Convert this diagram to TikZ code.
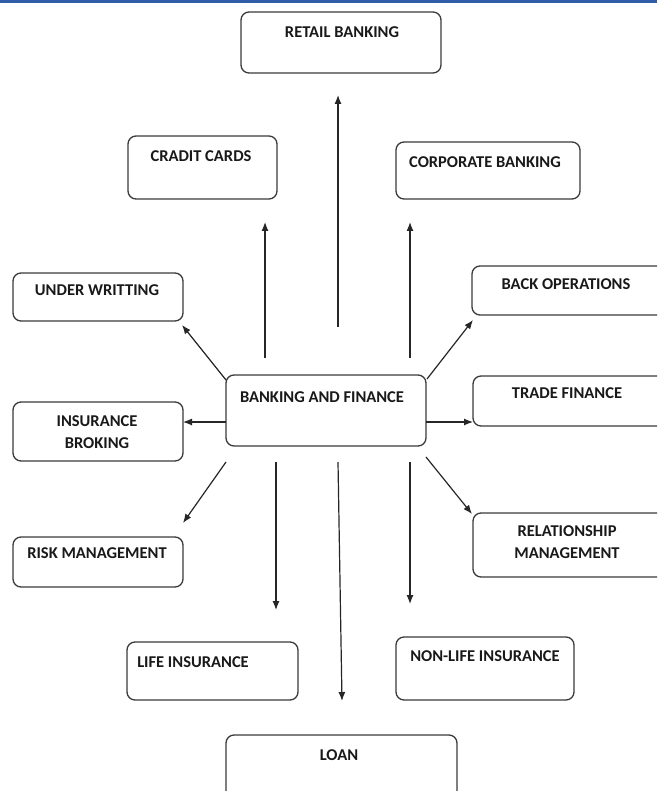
\documentclass[tikz,border=0pt]{standalone}
\usepackage{fontspec}
\setmainfont{Carlito}
\usetikzlibrary{arrows.meta}
\definecolor{topblue}{HTML}{2F5DA8}
\definecolor{edge}{HTML}{3A3A3A}
\tikzset{
  box/.style={draw=edge, line width=1.3pt, rounded corners=8pt, fill=white, inner sep=0pt},
  lbl/.style={font=\fontsize{16.5}{22}\selectfont\bfseries, text=black!90, inner sep=0pt, align=center},
  arr/.style={draw=black!85, line width=1.2pt, -{Latex[length=9pt,width=7pt]}}
}
\begin{document}
\begin{tikzpicture}[x=1pt,y=-1pt]
\useasboundingbox (0,0) rectangle (657,791);
\clip (0,0) rectangle (657,791);
\fill[topblue] (0,0) rectangle (657,3);
% boxes
\node[box, minimum width=200, minimum height=61] (retail) at (341,42.5) {};
\node[lbl] (retailT) at (342,32) {RETAIL BANKING};
\node[box, minimum width=149, minimum height=63] (credit) at (202.5,167.5) {};
\node[lbl] (creditT) at (201,156) {CRADIT CARDS};
\node[box, minimum width=184, minimum height=57] (corp) at (488,170.5) {};
\node[lbl] (corpT) at (485,162) {CORPORATE BANKING};
\node[box, minimum width=170, minimum height=48] (under) at (98,297) {};
\node[lbl] (underT) at (97,290) {UNDER WRITTING};
\node[box, minimum width=198, minimum height=49] (back) at (571,290.5) {};
\node[lbl] (backT) at (566,284) {BACK OPERATIONS};
\node[box, minimum width=200, minimum height=71] (bf) at (326,410.5) {};
\node[lbl] (bfT) at (322,397) {BANKING AND FINANCE};
\node[box, minimum width=197, minimum height=50] (trade) at (571.5,401) {};
\node[lbl] (tradeT) at (567,393) {TRADE FINANCE};
\node[box, minimum width=170, minimum height=59] (insur) at (98,431.5) {};
\node[lbl] (insurT) at (97,432) {INSURANCE\\BROKING};
\node[box, minimum width=170, minimum height=50] (risk) at (98,562) {};
\node[lbl] (riskT) at (97,553) {RISK MANAGEMENT};
\node[box, minimum width=197, minimum height=64] (rel) at (571.5,545) {};
\node[lbl] (relT) at (567,542) {RELATIONSHIP\\MANAGEMENT};
\node[box, minimum width=171, minimum height=58] (life) at (212.5,671) {};
\node[lbl] (lifeT) at (193,662) {LIFE INSURANCE};
\node[box, minimum width=178, minimum height=63] (nonlife) at (485,668.5) {};
\node[lbl] (nonlifeT) at (485,656) {NON-LIFE INSURANCE};
\node[box, minimum width=231, minimum height=70] (loan) at (341.5,770) {};
\node[lbl] (loanT) at (339,755) {LOAN};
% arrow end points
\coordinate (s1) at (338,327); \coordinate (e1) at (338,95);
\coordinate (s2) at (265,358); \coordinate (e2) at (265,222);
\coordinate (s3) at (410,358); \coordinate (e3) at (410,222);
\coordinate (s4) at (226,380); \coordinate (e4) at (182,325);
\coordinate (s5) at (226,422); \coordinate (e5) at (183,422);
\coordinate (s6) at (226,462); \coordinate (e6) at (183,523);
\coordinate (s7) at (276,462); \coordinate (e7) at (276,610);
\coordinate (s8) at (338,462); \coordinate (e8) at (342,701);
\coordinate (s9) at (410,462); \coordinate (e9) at (410,604);
\coordinate (s10) at (426,457); \coordinate (e10) at (472,514);
\coordinate (s11) at (426,422); \coordinate (e11) at (473,422);
\coordinate (s12) at (427,379); \coordinate (e12) at (473,320);
\foreach \i in {1,...,12} {\draw[arr] (s\i) -- (e\i);}
\end{tikzpicture}
\end{document}
